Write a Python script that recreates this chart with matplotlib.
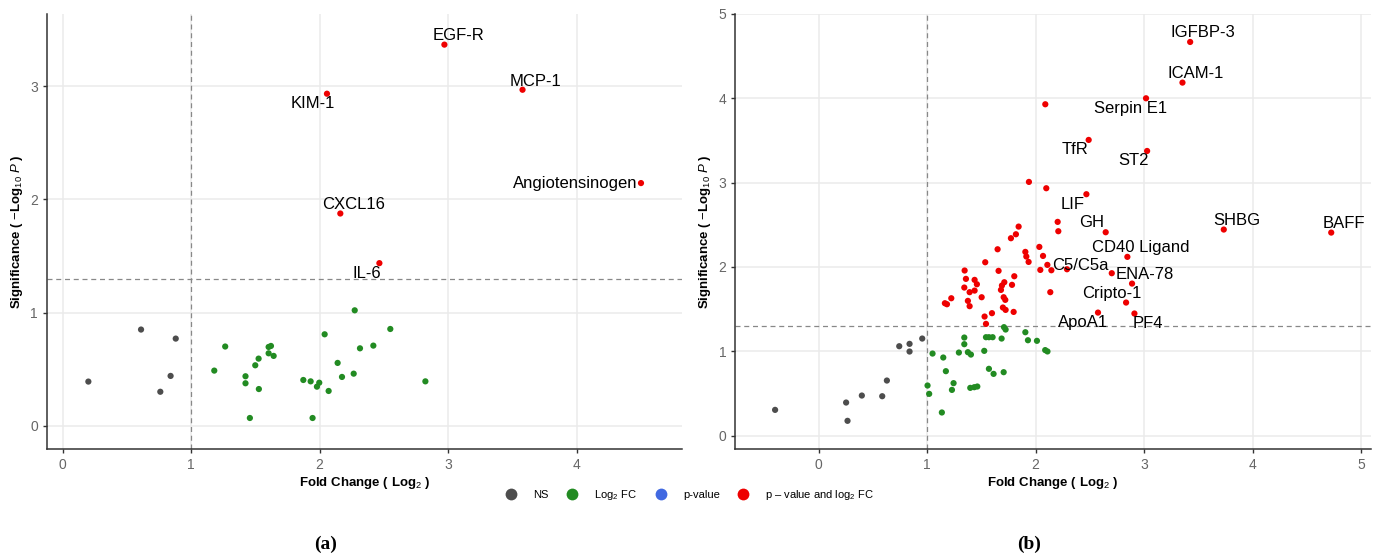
import numpy as np
import matplotlib
matplotlib.use('Agg')
import matplotlib.pyplot as plt
from matplotlib.lines import Line2D

plt.rcParams['font.family'] = ['Liberation Sans', 'DejaVu Sans']
plt.rcParams['mathtext.fontset'] = 'custom'
plt.rcParams['mathtext.rm'] = 'Liberation Sans'
plt.rcParams['mathtext.it'] = 'Liberation Sans:italic'
plt.rcParams['mathtext.bf'] = 'Liberation Sans:bold'

# ---- panel (a) ----
a_ns_fc = [0.20, 0.61, 0.88, 0.84, 0.76]
a_ns_p = [0.39, 0.85, 0.77, 0.44, 0.30]

a_fc_fc = [1.18, 1.265, 1.423, 1.423, 1.457, 1.499, 1.525, 1.527, 1.603, 1.621,
           1.603, 1.642, 1.873, 1.93, 1.979, 1.997, 1.945, 2.039, 2.07, 2.14,
           2.174, 2.273, 2.55, 2.314, 2.418, 2.265, 2.823]
a_fc_p = [0.487, 0.70, 0.437, 0.375, 0.068, 0.534, 0.593, 0.324, 0.696, 0.705,
          0.640, 0.617, 0.404, 0.392, 0.345, 0.38, 0.068, 0.808, 0.307, 0.555,
          0.431, 1.02, 0.855, 0.684, 0.708, 0.46, 0.392]

a_sig_names = ['EGF-R', 'MCP-1', 'Angiotensinogen', 'KIM-1', 'CXCL16', 'IL-6']
a_sig_fc = [2.971, 3.579, 4.501, 2.057, 2.161, 2.465]
a_sig_p = [3.369, 2.97, 2.145, 2.935, 1.876, 1.437]
a_lab_off = [(14, 9), (13, 8), (-66, 0), (-14, -10), (13, 9), (-13, -10)]

# ---- panel (b) ----
b_ns_fc = [-0.403, 0.252, 0.265, 0.397, 0.585, 0.628, 0.742, 0.837, 0.837, 0.954]
b_ns_p = [0.304, 0.391, 0.174, 0.474, 0.466, 0.652, 1.059, 1.087, 0.996, 1.150]

b_fc_fc = [1.003, 1.018, 1.049, 1.148, 1.172, 1.135, 1.243, 1.228, 1.292, 1.342,
           1.342, 1.375, 1.403, 1.397, 1.434, 1.462, 1.526, 1.542, 1.569, 1.603,
           1.569, 1.612, 1.686, 1.705, 1.708, 1.723, 1.905, 1.929, 2.012, 2.088,
           2.109]
b_fc_p = [0.593, 0.494, 0.972, 0.925, 0.763, 0.273, 0.621, 0.541, 0.984, 1.162,
          1.083, 0.988, 0.960, 0.565, 0.573, 0.581, 1.004, 1.166, 1.166, 1.166,
          0.791, 0.731, 1.150, 0.751, 1.285, 1.257, 1.225, 1.130, 1.123, 1.013,
          0.997]

b_sig_fc = [1.938, 1.843, 1.818, 1.772, 1.649, 1.905, 1.914, 1.935, 2.034, 2.043,
            1.535, 1.345, 1.357, 1.342, 1.437, 1.458, 1.437, 1.391, 1.375, 1.391,
            1.502, 1.222, 1.163, 1.182, 1.658, 1.803, 1.782, 1.711, 1.689, 1.680,
            1.705, 1.720, 1.698, 1.723, 1.797, 1.597, 1.529, 1.542, 2.089, 2.098,
            2.203, 2.209, 2.068, 2.108, 2.145, 2.135, 2.702]
b_sig_p = [3.008, 2.478, 2.387, 2.340, 2.209, 2.178, 2.123, 2.059, 2.237, 1.964,
           2.055, 1.957, 1.858, 1.755, 1.846, 1.794, 1.719, 1.700, 1.597, 1.534,
           1.640, 1.628, 1.569, 1.557, 1.953, 1.889, 1.787, 1.818, 1.779, 1.727,
           1.640, 1.609, 1.518, 1.490, 1.466, 1.451, 1.411, 1.324, 3.929, 2.933,
           2.534, 2.423, 2.130, 2.024, 1.960, 1.700, 1.925]

b_lab_names = ['IGFBP-3', 'ICAM-1', 'Serpin E1', 'TfR', 'ST2', 'LIF', 'GH', 'SHBG',
               'BAFF', 'CD40 Ligand', 'C5/C5a', 'ENA-78', 'Cripto-1', 'ApoA1', 'PF4']
b_lab_fc = [3.425, 3.354, 3.018, 2.489, 3.028, 2.468, 2.646, 3.735,
            4.726, 2.846, 2.289, 2.889, 2.834, 2.575, 2.911]
b_lab_p = [4.668, 4.186, 4.000, 3.506, 3.375, 2.862, 2.411, 2.443,
           2.407, 2.119, 1.972, 1.802, 1.577, 1.458, 1.447]
b_lab_off = [(13, 9), (13, 9), (-15, -10), (-14, -10), (-14, -10), (-14, -10),
             (-14, 10), (13, 9), (13, 9), (13, 9), (13, 4), (13, 9), (-14, 9),
             (-15, -10), (13, -10)]

legend_labels = ['NS', 'Log$_{2}$ FC', 'p-value', 'p – value and log$_{2}$ FC']
col_ns = '#4D4D4D'
col_fc = '#228B22'
col_p = '#4169E1'
col_both = '#EE0000'

fig = plt.figure(figsize=(13.78, 5.59), dpi=100)
ax1 = fig.add_axes([0.0341, 0.1968, 0.4608, 0.7782])
ax2 = fig.add_axes([0.5336, 0.1968, 0.4611, 0.7782])


def style_axes(ax, xlim, ylim, xticks, yticks):
    ax.set_xlim(*xlim)
    ax.set_ylim(*ylim)
    ax.set_xticks(xticks)
    ax.set_yticks(yticks)
    ax.grid(True, color='#EBEBEB', linewidth=1.1, zorder=0)
    ax.set_axisbelow(True)
    for s in ['top', 'right']:
        ax.spines[s].set_visible(False)
    for s in ['left', 'bottom']:
        ax.spines[s].set_color('#333333')
        ax.spines[s].set_linewidth(1.1)
    ax.tick_params(axis='both', colors='#333333', labelcolor='#666666',
                   labelsize=10, length=3, width=1)
    ax.axvline(1, color='#888888', linestyle='--', linewidth=0.9, dashes=(4, 3), zorder=1)
    ax.axhline(1.3, color='#888888', linestyle='--', linewidth=0.9, dashes=(4, 3), zorder=1)
    ax.set_xlabel('Fold Change ( Log$_{2}$ )', fontsize=9.5, fontweight='bold', labelpad=2)
    ax.set_ylabel('Significance ( $-$Log$_{10}$ $\\it{P}$ )', fontsize=9.5,
                  fontweight='bold', labelpad=4)


style_axes(ax1, (-0.122, 4.82), (-0.206, 3.64), [0, 1, 2, 3, 4], [0, 1, 2, 3])
style_axes(ax2, (-0.77, 5.09), (-0.16, 5.0), [0, 1, 2, 3, 4, 5], [0, 1, 2, 3, 4, 5])

ms = 20
ax1.scatter(a_ns_fc, a_ns_p, s=ms, color=col_ns, edgecolors='none', zorder=3)
ax1.scatter(a_fc_fc, a_fc_p, s=ms, color=col_fc, edgecolors='none', zorder=3)
ax1.scatter(a_sig_fc, a_sig_p, s=ms, color=col_both, edgecolors='none', zorder=3)
for name, x, y, off in zip(a_sig_names, a_sig_fc, a_sig_p, a_lab_off):
    ax1.annotate(name, (x, y), xytext=off, textcoords='offset pixels',
                 ha='center', va='center', fontsize=12, color='black', zorder=4)

ax2.scatter(b_ns_fc, b_ns_p, s=ms, color=col_ns, edgecolors='none', zorder=3)
ax2.scatter(b_fc_fc, b_fc_p, s=ms, color=col_fc, edgecolors='none', zorder=3)
ax2.scatter(b_sig_fc, b_sig_p, s=ms, color=col_both, edgecolors='none', zorder=3)
ax2.scatter(b_lab_fc, b_lab_p, s=ms, color=col_both, edgecolors='none', zorder=3)
for name, x, y, off in zip(b_lab_names, b_lab_fc, b_lab_p, b_lab_off):
    ax2.annotate(name, (x, y), xytext=off, textcoords='offset pixels',
                 ha='center', va='center', fontsize=12, color='black', zorder=4)

handles = [Line2D([], [], marker='o', linestyle='none', markersize=8.5,
                  markerfacecolor=c, markeredgecolor='none')
           for c in [col_ns, col_fc, col_p, col_both]]
fig.legend(handles, legend_labels, loc='center', bbox_to_anchor=(0.5007, 0.1145),
           ncol=4, frameon=False, fontsize=8, handlelength=1.0,
           handletextpad=1.5, columnspacing=1.6)

fig.text(326 / 1378, 1 - 544 / 559, '(a)', ha='center', va='center', fontsize=14,
         fontweight='bold', family=['Liberation Serif', 'DejaVu Serif'])
fig.text(1029 / 1378, 1 - 544 / 559, '(b)', ha='center', va='center', fontsize=14,
         fontweight='bold', family=['Liberation Serif', 'DejaVu Serif'])

fig.savefig('out.png', dpi=100)
